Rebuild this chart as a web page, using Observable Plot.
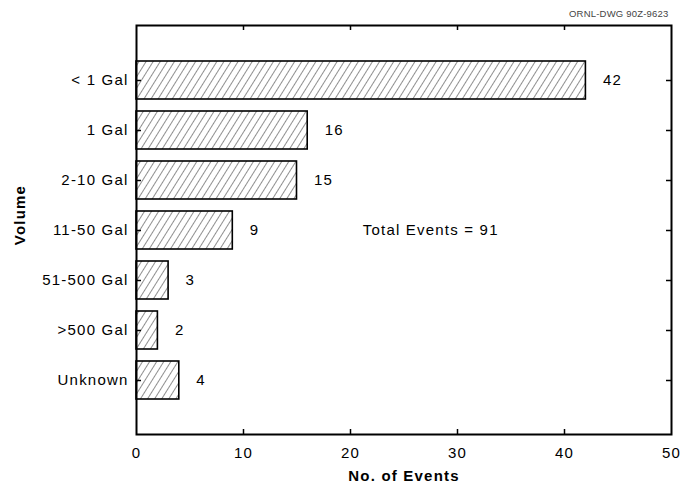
<!DOCTYPE html>
<html>
<head>
<meta charset="utf-8">
<script src="https://cdn.jsdelivr.net/npm/d3@7"></script>
<script src="https://cdn.jsdelivr.net/npm/@observablehq/plot@0.6"></script>
<style>
  html, body { margin: 0; padding: 0; background: #fff; }
  svg text { letter-spacing: 1.2px; }
  svg g.drawing-id text { letter-spacing: 0.2px; }
</style>
</head>
<body>
<div id="chart"></div>
<script>
// Spill volume categories and event counts
const volumes = ["< 1 Gal", "1 Gal", "2-10 Gal", "11-50 Gal", "51-500 Gal", ">500 Gal", "Unknown"];
const counts = [42, 16, 15, 9, 3, 2, 4];
const xTicks = [0, 10, 20, 30, 40, 50];

const data = volumes.map((v, i) => ({volume: v, count: counts[i]}));
const total = d3.sum(counts);

const W = 684, H = 486;
const mL = 136, mR = 13, mT = 25, mB = 52;
const frameW = W - mL - mR, frameH = H - mT - mB;
const tickLen = 5;

const chart = Plot.plot({
  width: W,
  height: H,
  marginLeft: mL,
  marginRight: mR,
  marginTop: mT,
  marginBottom: mB,
  style: {fontFamily: "'Liberation Sans', Arial, Helvetica, sans-serif", fontSize: "15px", color: "#000", background: "#fff"},
  x: {domain: [0, 50]},
  y: {domain: volumes, paddingInner: 0.25, paddingOuter: 0.66},
  marks: [
    // hatched bars
    Plot.barX(data, {x: "count", y: "volume", fill: "url(#hatch)", stroke: "#000", strokeWidth: 1.6}),
    // value labels
    Plot.text(data, {x: "count", y: "volume", text: d => String(d.count), textAnchor: "start", dx: 17, fill: "#000"}),
    // inward ticks on all four sides
    Plot.ruleX(xTicks.slice(1, -1), {x: d => d, insetTop: frameH - tickLen, stroke: "#000", strokeWidth: 1.5}),
    Plot.ruleX(xTicks.slice(1, -1), {x: d => d, insetBottom: frameH - tickLen, stroke: "#000", strokeWidth: 1.5}),
    Plot.tickY(volumes, {y: d => d, insetRight: frameW - tickLen, stroke: "#000", strokeWidth: 1.5}),
    Plot.tickY(volumes, {y: d => d, insetLeft: frameW - tickLen, stroke: "#000", strokeWidth: 1.5}),
    Plot.frame({stroke: "#000", strokeWidth: 2}),
    Plot.axisX({ticks: xTicks, tickSize: 0, tickPadding: 13, label: null, fill: "#000"}),
    Plot.axisY({tickSize: 0, tickPadding: 8, label: null, fill: "#000"}),
    // axis titles
    Plot.text(["No. of Events"], {frameAnchor: "bottom", lineAnchor: "middle", dy: 42, text: d => d, fontWeight: "bold", fill: "#000"}),
    Plot.text(["Volume"], {frameAnchor: "left", textAnchor: "middle", lineAnchor: "middle", dx: -116, dy: -15, rotate: -90, text: d => d, fontWeight: "bold", fill: "#000"}),
    // total annotation
    Plot.text([`Total Events = ${total}`], {x: 27.5, y: () => "11-50 Gal", text: d => d, fill: "#000"}),
    // drawing number
    Plot.text(["ORNL-DWG 90Z-9623"], {frameAnchor: "top-right", textAnchor: "end", lineAnchor: "middle", dx: -3, dy: -12, text: d => d, fontSize: 9.5, fill: "#444", className: "drawing-id"})
  ]
});

// diagonal hatch pattern used by the bars
const defs = d3.select(chart).insert("defs", ":first-child");
const pat = defs.append("pattern")
  .attr("id", "hatch")
  .attr("patternUnits", "userSpaceOnUse")
  .attr("width", 6)
  .attr("height", 6)
  .attr("patternTransform", "rotate(32)");
pat.append("rect").attr("width", 6).attr("height", 6).attr("fill", "#fff");
pat.append("line").attr("x1", 0).attr("y1", 0).attr("x2", 0).attr("y2", 6)
  .attr("stroke", "#222").attr("stroke-width", 1);

document.getElementById("chart").appendChild(chart);
</script>
</body>
</html>
